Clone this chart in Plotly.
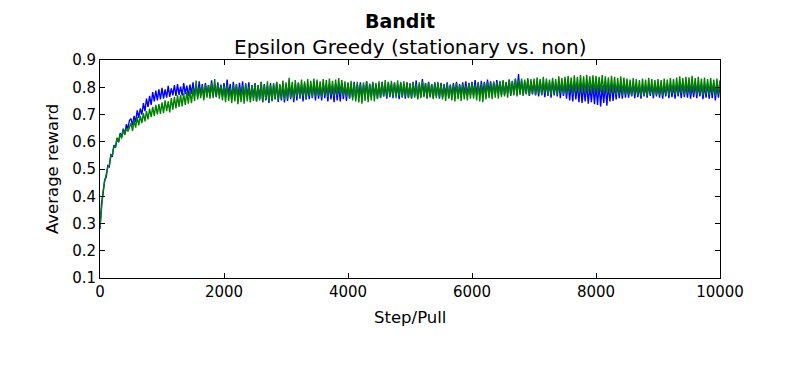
import plotly.graph_objects as go

# Step/Pull positions (every 25 pulls)
steps = list(range(0, 10001, 25))

# Average reward, stationary bandit (blue) (band envelope)
stationary = [
    0.280, 0.375, 0.410, 0.460, 0.470, 0.512, 0.508, 0.552, 0.548, 0.588, 0.578, 0.612, 0.598, 0.632, 0.618, 0.648, 0.628, 0.664, 0.648, 0.678,
    0.685, 0.660, 0.695, 0.672, 0.715, 0.688, 0.722, 0.700, 0.742, 0.712, 0.758, 0.728, 0.768, 0.735, 0.782, 0.748, 0.788, 0.752, 0.792, 0.755,
    0.798, 0.758, 0.792, 0.762, 0.805, 0.765, 0.796, 0.770, 0.808, 0.768, 0.812, 0.772, 0.802, 0.770, 0.815, 0.775, 0.806, 0.768, 0.810, 0.776,
    0.818, 0.770, 0.810, 0.765, 0.822, 0.772, 0.812, 0.762, 0.815, 0.775, 0.808, 0.768, 0.825, 0.770, 0.812, 0.764, 0.818, 0.772, 0.810, 0.766,
    0.815, 0.762, 0.828, 0.770, 0.812, 0.758, 0.820, 0.768, 0.810, 0.760, 0.816, 0.766, 0.822, 0.756, 0.812, 0.764, 0.818, 0.752, 0.808, 0.762,
    0.815, 0.748, 0.808, 0.756, 0.820, 0.745, 0.812, 0.752, 0.806, 0.742, 0.815, 0.750, 0.810, 0.755, 0.818, 0.746, 0.808, 0.752, 0.814, 0.744,
    0.810, 0.750, 0.818, 0.756, 0.806, 0.745, 0.812, 0.752, 0.815, 0.758, 0.808, 0.748, 0.814, 0.754, 0.806, 0.756, 0.812, 0.760, 0.818, 0.752,
    0.812, 0.758, 0.806, 0.752, 0.815, 0.760, 0.808, 0.748, 0.812, 0.755, 0.805, 0.745, 0.814, 0.752, 0.808, 0.748, 0.816, 0.756, 0.810, 0.750,
    0.815, 0.758, 0.808, 0.762, 0.820, 0.756, 0.812, 0.764, 0.818, 0.760, 0.810, 0.766, 0.822, 0.758, 0.812, 0.762, 0.816, 0.768, 0.810, 0.760,
    0.814, 0.762, 0.820, 0.766, 0.810, 0.758, 0.818, 0.764, 0.812, 0.760, 0.816, 0.768, 0.808, 0.756, 0.815, 0.764, 0.812, 0.758, 0.818, 0.762,
    0.812, 0.760, 0.818, 0.766, 0.825, 0.758, 0.812, 0.764, 0.830, 0.768, 0.815, 0.760, 0.820, 0.766, 0.812, 0.762, 0.818, 0.768, 0.814, 0.758,
    0.816, 0.764, 0.812, 0.770, 0.818, 0.762, 0.810, 0.768, 0.815, 0.772, 0.820, 0.766, 0.812, 0.770, 0.818, 0.774, 0.822, 0.768, 0.816, 0.772,
    0.820, 0.770, 0.826, 0.774, 0.818, 0.768, 0.824, 0.776, 0.820, 0.772, 0.828, 0.778, 0.822, 0.770, 0.818, 0.774, 0.826, 0.780, 0.820, 0.772,
    0.824, 0.772, 0.818, 0.778, 0.828, 0.770, 0.822, 0.776, 0.832, 0.774, 0.848, 0.778, 0.824, 0.772, 0.820, 0.776, 0.826, 0.768, 0.818, 0.774,
    0.822, 0.770, 0.818, 0.766, 0.824, 0.772, 0.816, 0.764, 0.820, 0.768, 0.818, 0.762, 0.824, 0.770, 0.816, 0.766, 0.822, 0.760, 0.818, 0.768,
    0.815, 0.758, 0.820, 0.752, 0.812, 0.748, 0.818, 0.755, 0.810, 0.745, 0.816, 0.742, 0.808, 0.748, 0.814, 0.740, 0.806, 0.745, 0.812, 0.738,
    0.808, 0.735, 0.812, 0.730, 0.806, 0.742, 0.814, 0.732, 0.808, 0.748, 0.815, 0.750, 0.810, 0.755, 0.812, 0.760, 0.808, 0.758, 0.814, 0.762,
    0.810, 0.762, 0.806, 0.766, 0.812, 0.760, 0.808, 0.764, 0.804, 0.758, 0.810, 0.766, 0.806, 0.762, 0.812, 0.768, 0.808, 0.760, 0.814, 0.766,
    0.808, 0.762, 0.812, 0.758, 0.806, 0.766, 0.814, 0.760, 0.810, 0.764, 0.806, 0.758, 0.812, 0.766, 0.808, 0.760, 0.815, 0.764, 0.810, 0.762,
    0.812, 0.758, 0.806, 0.764, 0.814, 0.760, 0.808, 0.766, 0.812, 0.756, 0.806, 0.762, 0.814, 0.758, 0.810, 0.760, 0.816, 0.752, 0.808, 0.762,
    0.806,
]

# Average reward, non-stationary bandit (green) (band envelope)
nonstationary = [
    0.290, 0.370, 0.420, 0.455, 0.478, 0.505, 0.515, 0.548, 0.552, 0.585, 0.580, 0.615, 0.600, 0.628, 0.612, 0.645, 0.625, 0.650, 0.638, 0.655,
    0.668, 0.640, 0.680, 0.652, 0.690, 0.660, 0.695, 0.668, 0.705, 0.675, 0.712, 0.682, 0.722, 0.690, 0.728, 0.695, 0.735, 0.700, 0.738, 0.702,
    0.745, 0.705, 0.752, 0.712, 0.748, 0.708, 0.760, 0.718, 0.765, 0.722, 0.770, 0.728, 0.772, 0.730, 0.778, 0.735, 0.782, 0.740, 0.788, 0.742,
    0.795, 0.750, 0.825, 0.755, 0.800, 0.760, 0.805, 0.752, 0.810, 0.762, 0.808, 0.758, 0.815, 0.760, 0.830, 0.765, 0.812, 0.758, 0.806, 0.752,
    0.805, 0.745, 0.810, 0.750, 0.798, 0.742, 0.808, 0.748, 0.812, 0.738, 0.800, 0.745, 0.806, 0.740, 0.815, 0.748, 0.802, 0.744, 0.808, 0.750,
    0.812, 0.748, 0.805, 0.752, 0.818, 0.745, 0.810, 0.755, 0.822, 0.750, 0.808, 0.748, 0.815, 0.756, 0.820, 0.752, 0.812, 0.758, 0.825, 0.754,
    0.818, 0.758, 0.835, 0.762, 0.820, 0.756, 0.826, 0.765, 0.818, 0.760, 0.828, 0.766, 0.822, 0.758, 0.830, 0.768, 0.824, 0.762, 0.832, 0.766,
    0.828, 0.768, 0.822, 0.762, 0.830, 0.770, 0.826, 0.764, 0.832, 0.772, 0.824, 0.766, 0.828, 0.770, 0.834, 0.774, 0.826, 0.768, 0.822, 0.765,
    0.818, 0.760, 0.824, 0.752, 0.815, 0.748, 0.820, 0.744, 0.812, 0.740, 0.818, 0.750, 0.822, 0.745, 0.814, 0.752, 0.820, 0.748, 0.816, 0.756,
    0.822, 0.760, 0.818, 0.766, 0.826, 0.762, 0.820, 0.768, 0.824, 0.764, 0.818, 0.760, 0.825, 0.768, 0.820, 0.762, 0.822, 0.766, 0.818, 0.760,
    0.815, 0.758, 0.820, 0.762, 0.812, 0.755, 0.818, 0.760, 0.822, 0.764, 0.815, 0.758, 0.818, 0.762, 0.812, 0.756, 0.816, 0.760, 0.820, 0.764,
    0.812, 0.755, 0.808, 0.750, 0.814, 0.758, 0.806, 0.752, 0.810, 0.748, 0.815, 0.756, 0.808, 0.750, 0.812, 0.755, 0.806, 0.752, 0.814, 0.758,
    0.815, 0.758, 0.810, 0.752, 0.818, 0.748, 0.812, 0.745, 0.816, 0.755, 0.820, 0.760, 0.814, 0.756, 0.822, 0.762, 0.818, 0.758, 0.824, 0.764,
    0.826, 0.766, 0.820, 0.762, 0.828, 0.768, 0.824, 0.770, 0.830, 0.766, 0.826, 0.772, 0.832, 0.768, 0.828, 0.774, 0.834, 0.770, 0.830, 0.776,
    0.832, 0.772, 0.836, 0.776, 0.830, 0.770, 0.838, 0.778, 0.832, 0.774, 0.828, 0.772, 0.835, 0.776, 0.830, 0.770, 0.840, 0.778, 0.834, 0.774,
    0.838, 0.776, 0.842, 0.780, 0.836, 0.774, 0.844, 0.782, 0.838, 0.778, 0.845, 0.780, 0.840, 0.776, 0.846, 0.782, 0.840, 0.778, 0.844, 0.780,
    0.842, 0.778, 0.838, 0.782, 0.845, 0.776, 0.840, 0.780, 0.836, 0.774, 0.842, 0.778, 0.838, 0.772, 0.834, 0.776, 0.840, 0.770, 0.836, 0.774,
    0.832, 0.772, 0.828, 0.768, 0.834, 0.774, 0.830, 0.770, 0.826, 0.766, 0.832, 0.772, 0.828, 0.768, 0.835, 0.774, 0.830, 0.770, 0.826, 0.772,
    0.830, 0.772, 0.826, 0.768, 0.832, 0.774, 0.828, 0.770, 0.834, 0.776, 0.830, 0.772, 0.836, 0.774, 0.840, 0.778, 0.834, 0.772, 0.838, 0.776,
    0.836, 0.774, 0.842, 0.778, 0.834, 0.772, 0.838, 0.776, 0.832, 0.770, 0.836, 0.774, 0.830, 0.772, 0.834, 0.776, 0.828, 0.768, 0.832, 0.774,
    0.826,
]

y_ticks = [0.1, 0.2, 0.3, 0.4, 0.5, 0.6, 0.7, 0.8, 0.9]
x_ticks = [0, 2000, 4000, 6000, 8000, 10000]

suptitle = "Bandit"
title = "Epsilon Greedy (stationary vs. non)"
x_label = "Step/Pull"
y_label = "Average reward"

FONT = "DejaVu Sans"

# page has an 8px body margin; compensate so the plot lands where the reference has it
OFF = 8
W, H = 800, 370
ML, MR, MT, MB = 100 - OFF, 80 + OFF, 60 - OFF, 92 + OFF
pw, ph = W - ML - MR, H - MT - MB


def px_x(x):
    return (x - OFF - ML) / pw


def px_y(y):
    return (H - MB - (y - OFF)) / ph


fig = go.Figure()
fig.add_trace(go.Scatter(x=steps, y=stationary, mode="lines",
                         line=dict(color="#0000ff", width=1.4), name="stationary"))
fig.add_trace(go.Scatter(x=steps, y=nonstationary, mode="lines",
                         line=dict(color="#008000", width=1.4), name="non-stationary"))

axis_common = dict(showline=True, linecolor="black", linewidth=1, mirror="ticks",
                   ticks="inside", ticklen=5, tickcolor="black", showgrid=False,
                   zeroline=False, tickfont=dict(family=FONT, size=15, color="black"))

fig.update_xaxes(range=[0, 10000], tickvals=x_ticks, ticktext=[str(v) for v in x_ticks],
                 **axis_common)
fig.update_yaxes(range=[0.1, 0.9], tickvals=y_ticks, ticktext=[f"{v:.1f}" for v in y_ticks],
                 **axis_common)

fig.update_layout(
    width=W, height=H,
    margin=dict(l=ML, r=MR, t=MT, b=MB),
    paper_bgcolor="white", plot_bgcolor="white",
    showlegend=False,
    font=dict(family=FONT, color="black"),
    annotations=[
        dict(text=f"<b>{suptitle}</b>", x=px_x(400), y=px_y(21), xref="paper", yref="paper",
             showarrow=False, font=dict(size=19, family=FONT), xanchor="center", yanchor="middle"),
        dict(text=title, x=px_x(410), y=px_y(47), xref="paper", yref="paper",
             showarrow=False, font=dict(size=20, family=FONT), xanchor="center", yanchor="middle"),
        dict(text=x_label, x=px_x(410), y=px_y(317), xref="paper", yref="paper",
             showarrow=False, font=dict(size=16.5, family=FONT), xanchor="center", yanchor="middle"),
        dict(text=y_label, x=px_x(52), y=px_y(169), xref="paper", yref="paper", textangle=-90,
             showarrow=False, font=dict(size=16.5, family=FONT), xanchor="center", yanchor="middle"),
    ],
)

assert len(steps) == len(stationary) == len(nonstationary)
fig.write_html("out.html")
